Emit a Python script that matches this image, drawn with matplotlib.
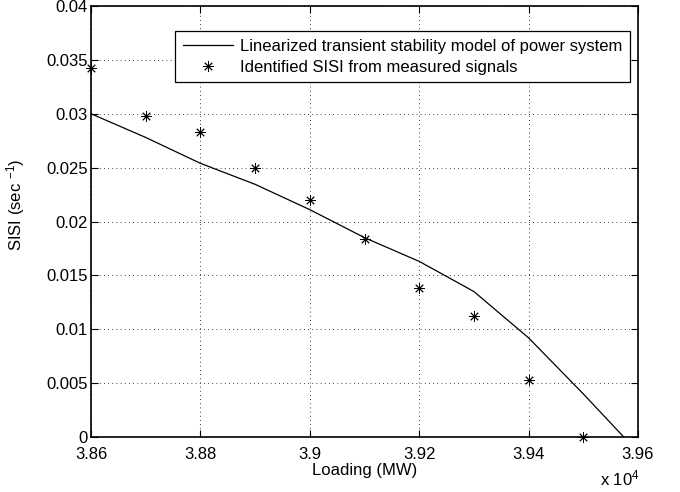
import matplotlib
matplotlib.use("Agg")
import matplotlib.pyplot as plt
from matplotlib.ticker import FuncFormatter

plt.rcParams['font.family'] = ['Liberation Sans', 'DejaVu Sans']
plt.rcParams['mathtext.fontset'] = 'custom'
plt.rcParams['mathtext.rm'] = 'Liberation Sans'
plt.rcParams['mathtext.it'] = 'Liberation Sans'

# Model curve (loading in MW, SISI in 1/s)
model_load = [38600, 38700, 38800, 38900, 39000, 39100, 39200, 39300, 39400, 39500, 39574]
model_sisi = [0.0300, 0.0278, 0.0254, 0.02345, 0.0211, 0.0185, 0.0163, 0.0135, 0.0092, 0.0040, 0.0]

# Identified values from measurements
meas_load = [38600, 38700, 38800, 38900, 39000, 39100, 39200, 39300, 39400, 39500]
meas_sisi = [0.0342, 0.0298, 0.0283, 0.0250, 0.0220, 0.0184, 0.0138, 0.0112, 0.0053, 0.0]

xticks = [38600, 38800, 39000, 39200, 39400, 39600]
yticks = [0, 0.005, 0.01, 0.015, 0.02, 0.025, 0.03, 0.035, 0.04]

FS = 12

fig = plt.figure(figsize=(6.8, 4.92), dpi=100)
ax = fig.add_axes([91/680, 1 - 437/492, (638 - 91)/680, (437 - 6)/492])

ax.plot(model_load, model_sisi, color='black', lw=0.9,
        label='Linearized transient stability model of power system')
ax.plot(meas_load, meas_sisi, linestyle='none', marker=(8, 2, 0), markersize=7.5,
        markeredgewidth=0.65, color='black', clip_on=False,
        label='Identified SISI from measured signals')

ax.set_xlim(38600, 39600)
ax.set_ylim(0, 0.04)
ax.set_xticks(xticks)
ax.set_yticks(yticks)
ax.xaxis.set_major_formatter(FuncFormatter(lambda v, p: '%g' % (v / 1e4)))
ax.yaxis.set_major_formatter(FuncFormatter(lambda v, p: '%g' % v))
ax.tick_params(direction='in', top=True, right=True, labelsize=FS, length=5, width=0.8)
ax.tick_params(axis='x', pad=7)
ax.tick_params(axis='y', pad=2.5)
ax.grid(True, linestyle=(0, (1, 4)), color='black', lw=0.6)
for s in ax.spines.values():
    s.set_linewidth(1.2)

ax.set_xlabel('Loading (MW)', fontsize=FS, labelpad=1)
ax.set_ylabel(r'SISI (sec $^{-1}$)', fontsize=FS)
ax.yaxis.set_label_coords(-0.117, 0.538)
fig.text(600/680, 1 - 485/492, r'x 10$^{4}$', fontsize=FS, ha='left', va='baseline')

leg = ax.legend(loc='upper right', bbox_to_anchor=(1 - 8/547, 1 - 25/431),
                fontsize=FS, fancybox=False, framealpha=1, edgecolor='black',
                borderpad=0.45, handlelength=3.0, handletextpad=0.45, labelspacing=0.38,
                borderaxespad=0)
leg.get_frame().set_linewidth(0.9)

fig.savefig('out.png', dpi=100)
